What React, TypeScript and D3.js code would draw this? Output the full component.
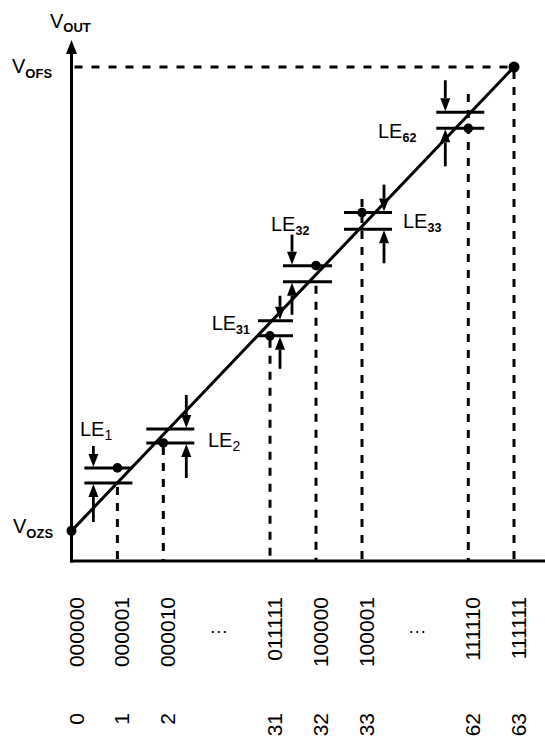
import React, { useEffect } from 'react'
import * as d3 from 'd3'

// DAC codes shown on the horizontal axis (axis is broken between groups)
const codes = [0, 1, 2, 31, 32, 33, 62, 63]
const binaryLabels = ['000000', '000001', '000010', '011111', '100000', '100001', '111110', '111111']
const decimalLabels = ['0', '1', '2', '31', '32', '33', '62', '63']
const gapAfter = [2, 33]

// output voltage, arbitrary units (0 = x axis)
const vOZS = 5.8
const vOFS = 95.0

// linearity error markers
const leCodes = [1, 2, 31, 32, 33, 62]
const leNames = ['1', '2', '31', '32', '33', '62']
const leUpper = [17.9, 25.4, 46.2, 56.8, 67.0, 86.3]
const leLower = [15.0, 22.7, 43.3, 53.7, 63.8, 83.2]
const leDotOn = ['upper', 'lower', 'lower', 'upper', 'upper', 'lower']
// top of the dashed drop line for each code
const dropTop = [null, 15.0, 22.7, 43.3, 53.7, 70.4, 90.6, 95.0]

// where the arrows / labels sit around each marker pair
const leLayout = [
  { arrowDx: -24, from: -33, to: 15, downLen: 21, upLen: 38, lx: 80, ly: 436, anchor: 'start' },
  { arrowDx: 23, from: -17, to: 31, downLen: 33, upLen: 34, lx: 208, ly: 447, anchor: 'start' },
  { arrowDx: 10, from: -12, to: 23, downLen: 24, upLen: 32, lx: 250, ly: 330, anchor: 'end' },
  { arrowDx: -24, from: -33, to: 16, downLen: 30, upLen: 32, lx: 271, ly: 231, anchor: 'start' },
  { arrowDx: 22, from: -18, to: 30, downLen: 27, upLen: 33, lx: 403, ly: 228, anchor: 'start' },
  { arrowDx: -23, from: -32, to: 16, downLen: 31, upLen: 37, lx: 378, ly: 138, anchor: 'start' },
]

const W = 545
const H = 741
const FONT = '"Liberation Sans", Arial, Helvetica, sans-serif'

const xScale = d3.scaleLinear()
  .domain([0, 2, 31, 33, 62, 63])
  .range([71.5, 163.3, 270, 362, 468.3, 514])

const yScale = d3.scaleLinear().domain([0, 100]).range([561, 41])

const Arrow = (props: { x: number, tip: number, len: number, dir: 'down' | 'up' }) => {
  const s = props.dir === 'down' ? 1 : -1
  const head = 13
  const tail = props.tip - s * props.len
  const base = props.tip - s * head
  return (
    <g>
      <line x1={props.x} x2={props.x} y1={tail} y2={base} stroke='#000' strokeWidth={2.8} />
      <path d={`M${props.x - 5},${base} L${props.x + 5},${base} L${props.x},${props.tip} Z`} fill='#000' />
    </g>
  )
}

export default function App() {
  useEffect(() => {
    document.body.style.margin = '0'
  }, [])

  const x0 = xScale(0)
  const xEnd = W
  const yAxis = yScale(0)

  const ideal = d3.line<[number, number]>()
    .x(d => xScale(d[0]))
    .y(d => yScale(d[1]))([[0, vOZS], [63, vOFS]])

  return (
    <svg width={W} height={H} style={{ display: 'block', background: '#fff' }} fontFamily={FONT}>
      {/* axes */}
      <line x1={x0} x2={x0} y1={yAxis + 1.5} y2={52} stroke='#000' strokeWidth={3} />
      <path d={`M${x0 - 5.5},${54} L${x0 + 5.5},${54} L${x0},${40} Z`} fill='#000' />
      <line x1={x0 - 1.5} x2={xEnd} y1={yAxis} y2={yAxis} stroke='#000' strokeWidth={3} />

      {/* full scale dashed level */}
      <line x1={x0 + 3} x2={xScale(63)} y1={yScale(vOFS)} y2={yScale(vOFS)}
        stroke='#000' strokeWidth={3} strokeDasharray='8,9' />

      {/* drop lines */}
      {codes.map((c, i) => dropTop[i] === null ? null : (
        <line key={`drop${c}`} x1={xScale(c)} x2={xScale(c)} y1={yScale(dropTop[i] as number) + 4} y2={yAxis}
          stroke='#000' strokeWidth={3} strokeDasharray='8,8' />
      ))}

      {/* ideal transfer line */}
      <path d={ideal || ''} stroke='#000' strokeWidth={3} fill='none' />
      <circle cx={xScale(0)} cy={yScale(vOZS)} r={5} fill='#000' />
      <circle cx={xScale(63)} cy={yScale(vOFS)} r={5.5} fill='#000' />

      {/* linearity error markers */}
      {leCodes.map((c, i) => {
        const L = leLayout[i]
        const cx = xScale(c)
        const yu = yScale(leUpper[i])
        const yl = yScale(leLower[i])
        const ax = cx + L.arrowDx
        return (
          <g key={`le${c}`}>
            <line x1={cx + L.from} x2={cx + L.to} y1={yu} y2={yu} stroke='#000' strokeWidth={3} />
            <line x1={cx + L.from} x2={cx + L.to} y1={yl} y2={yl} stroke='#000' strokeWidth={3} />
            <circle cx={cx} cy={leDotOn[i] === 'upper' ? yu : yl} r={4.8} fill='#000' />
            <Arrow x={ax} tip={yu - 1} len={L.downLen} dir='down' />
            <Arrow x={ax} tip={yl + 1} len={L.upLen} dir='up' />
            <text x={L.lx} y={L.ly} fontSize={20} textAnchor={L.anchor as any}>
              LE
              <tspan fontSize={leNames[i].length > 1 ? 12.5 : 14} fontWeight={leNames[i].length > 1 ? 'bold' : 'normal'} dy={4}>{leNames[i]}</tspan>
            </text>
          </g>
        )
      })}

      {/* voltage labels */}
      <text x={50} y={28} fontSize={20}>V<tspan fontSize={13} fontWeight='bold' dy={4}>OUT</tspan></text>
      <text x={12} y={73} fontSize={20}>V<tspan fontSize={13} fontWeight='bold' dy={5}>OFS</tspan></text>
      <text x={13} y={533} fontSize={20}>V<tspan fontSize={13} fontWeight='bold' dy={5}>OZS</tspan></text>

      {/* code labels */}
      {codes.map((c, i) => {
        const bx = xScale(c) + 12
        return (
          <g key={`lab${c}`}>
            <text transform={`translate(${bx},597) rotate(-90)`} fontSize={21} textAnchor='end'>{binaryLabels[i]}</text>
            <text transform={`translate(${bx},713) rotate(-90)`} fontSize={21} textAnchor='end'>{decimalLabels[i]}</text>
          </g>
        )
      })}
      {gapAfter.map(g => {
        const i = codes.indexOf(g)
        const mx = (xScale(codes[i]) + xScale(codes[i + 1])) / 2 + 2
        return (
          <text key={`gap${g}`} x={mx} y={637} fontSize={18} textAnchor='middle'>···</text>
        )
      })}
    </svg>
  )
}
